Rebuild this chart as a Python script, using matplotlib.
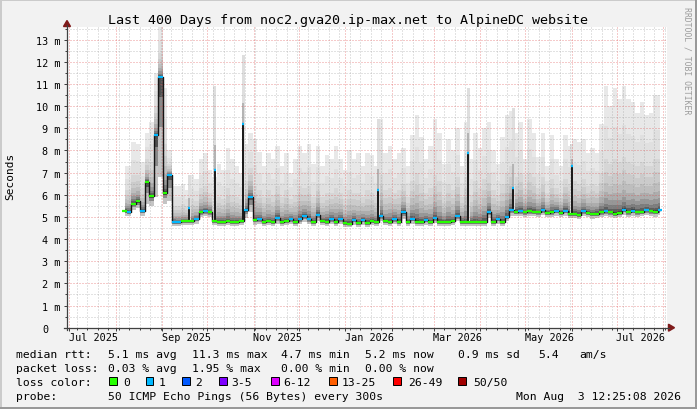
import numpy as np
import pandas as pd
import matplotlib
matplotlib.use("Agg")
import matplotlib.pyplot as plt
import matplotlib.dates as mdates
from matplotlib.patches import Rectangle, Polygon
from matplotlib.lines import Line2D
from matplotlib.ticker import FixedLocator, MultipleLocator
import matplotlib.transforms as mtransforms

# ---------------- data ----------------
graph_start = "2025-06-29 12:25:08"
graph_end = "2026-08-03 12:25:08"
series_start = "2025-08-07"   # one value every 3 days

median = [5.28, 5.24, 5.60, 5.70, 5.28, 6.56, 5.96, 8.70, 11.30, 6.10,
          6.90, 4.78, 4.75, 4.80, 4.80, 4.80, 4.90, 5.20, 5.25, 5.20,
          4.80, 4.78, 4.78, 4.80, 4.78, 4.78, 4.80, 5.30, 5.90, 4.85,
          4.90, 4.78, 4.80, 4.78, 4.95, 4.78, 4.80, 4.90, 4.78, 4.90,
          5.05, 4.90, 4.78, 5.10, 4.80, 4.78, 4.90, 4.78, 4.90, 4.72,
          4.70, 4.85, 4.72, 4.85, 4.72, 4.80, 4.78, 5.05, 4.80, 4.78,
          4.90, 4.78, 5.20, 4.75, 4.90, 4.78, 4.75, 4.85, 4.75, 4.95,
          4.78, 4.75, 4.78, 4.80, 5.05, 4.78, 4.75, 4.75, 4.78, 4.75,
          4.78, 5.20, 4.78, 4.90, 4.78, 5.00, 5.30, 5.22, 5.25, 5.20,
          5.25, 5.22, 5.20, 5.30, 5.18, 5.20, 5.28, 5.18, 5.28, 5.15,
          5.15, 5.10, 5.25, 5.18, 5.12, 5.15, 5.20, 5.25, 5.20, 5.15,
          5.18, 5.32, 5.20, 5.28, 5.20, 5.22, 5.30, 5.25, 5.22, 5.30]

smoke_max = [7.3, 7.3, 8.4, 8.3, 7.5, 8.8, 9.3, 11.5, 13.6, 10.8,
             8.0, 6.4, 6.4, 6.5, 6.2, 6.9, 6.7, 7.6, 7.9, 7.1,
             6.8, 7.4, 7.1, 8.1, 7.6, 7.3, 7.0, 8.3, 8.8, 8.5,
             7.95, 7.3, 7.9, 7.6, 8.2, 7.3, 7.9, 7.0, 7.6, 8.2,
             7.9, 8.3, 7.4, 8.2, 7.3, 7.8, 7.6, 8.2, 7.6, 7.1,
             8.0, 7.6, 7.9, 7.3, 7.9, 7.8, 7.3, 9.4, 7.9, 8.2,
             7.6, 7.9, 8.1, 7.3, 8.7, 9.6, 8.6, 7.6, 8.2, 9.4,
             8.8, 7.4, 8.5, 8.0, 9.0, 7.3, 9.3, 7.6, 8.8, 8.1,
             9.0, 9.3, 8.0, 7.4, 8.6, 9.6, 9.8, 8.8, 9.3, 7.6,
             9.4, 8.8, 7.7, 8.8, 7.3, 8.7, 7.6, 7.3, 8.7, 8.2,
             8.5, 8.4, 8.5, 7.9, 8.1, 7.9, 9.2, 10.9, 10.0, 10.8,
             10.3, 10.9, 10.3, 10.2, 9.7, 10.2, 9.6, 9.7, 10.5, 10.5]

smoke_mid = [6.2, 6.2, 6.9, 6.9, 6.3, 7.6, 7.5, 10.0, 12.4, 8.3,
             7.4, 5.5, 5.5, 5.6, 5.5, 5.8, 5.7, 6.3, 6.4, 6.1,
             5.7, 5.9, 5.8, 6.3, 6.0, 5.9, 5.8, 6.6, 7.2, 6.4,
             6.2, 5.9, 6.2, 6.0, 6.4, 5.9, 6.2, 5.8, 6.0, 6.4,
             6.3, 6.4, 5.9, 6.5, 5.9, 6.1, 6.1, 6.3, 6.1, 5.8,
             6.2, 6.1, 6.1, 5.9, 6.2, 6.1, 5.9, 6.9, 6.2, 6.3,
             6.1, 6.2, 6.5, 5.9, 6.6, 7.0, 6.5, 6.1, 6.3, 6.9,
             6.6, 5.9, 6.5, 6.2, 6.8, 5.9, 6.8, 6.0, 6.6, 6.3,
             6.7, 7.0, 6.2, 6.0, 6.5, 7.0, 7.3, 6.8, 7.0, 6.3,
             7.0, 6.8, 6.3, 6.8, 6.1, 6.7, 6.3, 6.1, 6.7, 6.5,
             6.6, 6.5, 6.7, 6.4, 6.5, 6.4, 7.0, 7.6, 7.4, 7.6,
             7.5, 7.7, 7.5, 7.4, 7.3, 7.5, 7.3, 7.3, 7.6, 7.6]

smoke_min = [5.05, 5.05, 5.30, 5.40, 5.05, 5.60, 5.50, 5.90, 6.80, 5.60,
             5.70, 4.60, 4.58, 4.62, 4.62, 4.62, 4.70, 5.00, 5.05, 5.00,
             4.62, 4.60, 4.60, 4.62, 4.60, 4.60, 4.62, 4.95, 5.20, 4.65,
             4.68, 4.60, 4.62, 4.60, 4.70, 4.60, 4.62, 4.68, 4.60, 4.68,
             4.75, 4.68, 4.60, 4.80, 4.62, 4.60, 4.68, 4.60, 4.68, 4.55,
             4.53, 4.65, 4.55, 4.65, 4.55, 4.62, 4.60, 4.80, 4.62, 4.60,
             4.68, 4.60, 4.90, 4.58, 4.70, 4.60, 4.58, 4.65, 4.58, 4.72,
             4.60, 4.58, 4.60, 4.62, 4.80, 4.60, 4.58, 4.58, 4.60, 4.58,
             4.60, 4.95, 4.60, 4.70, 4.60, 4.80, 5.05, 5.02, 5.05, 5.00,
             5.05, 5.02, 5.00, 5.08, 4.98, 5.00, 5.05, 4.98, 5.05, 4.95,
             4.95, 4.90, 5.02, 4.98, 4.92, 4.95, 5.00, 5.02, 5.00, 4.95,
             4.98, 5.08, 5.00, 5.05, 5.00, 5.02, 5.08, 5.03, 5.00, 5.08]

loss = [0, 1, 0, 0, 1, 0, 0, 1, 1, 0,
        1, 1, 1, 0, 0, 0, 1, 0, 1, 0,
        0, 0, 0, 0, 0, 0, 0, 1, 1, 0,
        1, 0, 0, 0, 1, 0, 0, 1, 0, 1,
        1, 1, 0, 1, 0, 0, 1, 0, 1, 0,
        0, 1, 0, 1, 0, 0, 0, 1, 0, 0,
        1, 0, 1, 0, 1, 0, 0, 1, 0, 1,
        0, 0, 0, 0, 1, 0, 0, 0, 0, 0,
        0, 1, 0, 1, 0, 1, 1, 0, 1, 0,
        0, 0, 0, 1, 0, 0, 1, 0, 1, 0,
        0, 0, 1, 0, 0, 0, 0, 1, 0, 0,
        0, 1, 0, 1, 0, 0, 1, 0, 0, 1]

spike_dates = ["2025-09-19", "2025-10-06", "2025-10-25", "2026-01-23",
               "2026-03-24", "2026-04-23", "2026-06-01"]
spike_median = [5.4, 7.1, 9.2, 6.2, 7.9, 6.3, 7.3]
spike_max = [6.9, 10.9, 12.3, 9.4, 10.8, 9.9, 8.3]

y_ticks = list(range(0, 14))
month_labels = ["Jul 2025", "Sep 2025", "Nov 2025", "Jan 2026",
                "Mar 2026", "May 2026", "Jul 2026"]
month_label_starts = ["2025-07-01", "2025-09-01", "2025-11-01", "2026-01-01",
                      "2026-03-01", "2026-05-01", "2026-07-01"]

loss_labels = ["0", "1", "2", "3-5", "6-12", "13-25", "26-49", "50/50"]
loss_colors = ["#26ff00", "#00b8ff", "#0059ff", "#7e00ff",
               "#dd00ff", "#ff5e00", "#ff0000", "#a10000"]

title = "Last 400 Days from noc2.gva20.ip-max.net to AlpineDC website"

# ---------------- figure ----------------
W, H = 697, 410
MONO = "DejaVu Sans Mono"
fig = plt.figure(figsize=(W / 100, H / 100), dpi=100)
fig.patch.set_facecolor("#f2f2f2")


def fx(p):
    return p / W


def fy(p):
    return 1 - p / H


ax = fig.add_axes([fx(67), fy(328.7), fx(667) - fx(67), fy(28) - fy(328.7)])
ax.set_facecolor("white")
ax.set_xlim(mdates.date2num(pd.Timestamp(graph_start)),
            mdates.date2num(pd.Timestamp(graph_end)))
ax.set_ylim(0, 13.57)
for s in ax.spines.values():
    s.set_visible(False)

x = mdates.date2num(pd.date_range(series_start, periods=len(median), freq="3D"))
med = np.array(median)
mx = np.array(smoke_max)
mid = np.array(smoke_mid)
mn = np.array(smoke_min)

# smoke above median (outer = light, inner = dark)
ax.fill_between(x, med, mx, step="mid", color="#e8e8e8", lw=0, zorder=1)
ax.fill_between(x, med, mid + 0.45 * (mx - mid), step="mid", color="#e0e0e0", lw=0, zorder=1)
for f, c in [(1.0, "#d6d6d6"), (0.75, "#cbcbcb"), (0.55, "#bebebe"),
             (0.38, "#adadad"), (0.25, "#979797"), (0.15, "#7c7c7c"),
             (0.08, "#5e5e5e"), (0.03, "#3e3e3e")]:
    ax.fill_between(x, med, med + f * (mid - med), step="mid", color=c, lw=0, zorder=1)
# smoke below median
ax.fill_between(x, mn, med, step="mid", color="#c4c4c4", lw=0, zorder=1)
ax.fill_between(x, med - 0.5 * (med - mn), med, step="mid", color="#8a8a8a", lw=0, zorder=1)
ax.fill_between(x, med - 0.2 * (med - mn), med, step="mid", color="#505050", lw=0, zorder=1)

# spikes
sx = mdates.date2num(pd.to_datetime(spike_dates))
for d, sm, smax in zip(sx, spike_median, spike_max):
    j = int(np.argmin(np.abs(x - d)))
    b = med[j]
    ax.fill_between([d - 0.9, d + 0.9], b, smax, color="#dedede", lw=0, zorder=1.1)
    ax.fill_between([d - 0.7, d + 0.7], b, sm + 0.3 * (smax - sm), color="#b4b4b4", lw=0, zorder=1.1)
    ax.fill_between([d - 0.6, d + 0.6], b, sm, color="#606060", lw=0, zorder=1.1)
    ax.vlines(d, b, sm, color="#151515", lw=1.3, zorder=3)
    ax.hlines(sm, d - 0.7, d + 0.7, color=loss_colors[1], lw=1.7, zorder=4)

# median line
ax.step(x, med, where="mid", color="#151515", lw=1.0, zorder=3)
ax.hlines(med, x - 1.5, x + 1.5, colors=[loss_colors[v] for v in loss], lw=1.6, zorder=4)

# grid / ticks
ax.xaxis.set_major_locator(mdates.MonthLocator())
weekly = mdates.date2num(pd.date_range("2025-06-29", "2026-08-03", freq="7D"))
ax.xaxis.set_minor_locator(FixedLocator(weekly))
ax.yaxis.set_major_locator(FixedLocator(y_ticks))
ax.yaxis.set_minor_locator(MultipleLocator(0.5))
ax.set_axisbelow(False)
ax.grid(True, which="major", color="#de5050", alpha=0.6, lw=0.72, ls=(0, (1, 2)))
ax.grid(True, which="minor", color="#8f8f8f", alpha=0.5, lw=0.72, ls=(0, (1, 2)))
ax.tick_params(axis="both", which="both", color="#404040", width=0.72)
ax.tick_params(axis="both", which="major", length=2.2)
ax.tick_params(axis="both", which="minor", length=1.4)
ax.tick_params(axis="x", labelbottom=False)
ax.tick_params(axis="y", which="major", pad=2.4)
ax.set_yticklabels(["" if v == 0 else f"{v} m" for v in y_ticks],
                   fontfamily=MONO, fontsize=7.3)
fig.text(fx(45.2), fy(328.7), "0", ha="center", va="center_baseline",
         fontfamily=MONO, fontsize=7.3)

lab_tr = mtransforms.offset_copy(ax.get_xaxis_transform(), fig=fig, y=-12.3 * 0.72, units="points")
for lab, st in zip(month_labels, month_label_starts):
    d = mdates.date2num(pd.Timestamp(st) + pd.Timedelta(days=16))
    ax.text(d, 0, lab, transform=lab_tr, ha="center", va="baseline",
            fontfamily=MONO, fontsize=7.3)

# axis lines and arrows
axis_col = "#404040"
arrow_col = "#7f1a1a"
fig.add_artist(Line2D([fx(67), fx(67)], [fy(331), fy(26)], color=axis_col, lw=0.9,
                      transform=fig.transFigure))
fig.add_artist(Line2D([fx(64), fx(669)], [fy(328.7), fy(328.7)], color=axis_col, lw=0.9,
                      transform=fig.transFigure))
fig.add_artist(Polygon([[fx(67), fy(21.5)], [fx(63.5), fy(27.5)], [fx(70.5), fy(27.5)]],
                       closed=True, color=arrow_col, transform=fig.transFigure))
fig.add_artist(Polygon([[fx(674.5), fy(328.7)], [fx(668.5), fy(325.2)], [fx(668.5), fy(332.2)]],
                       closed=True, color=arrow_col, transform=fig.transFigure))

# texts
fig.text(fx(348), fy(24), title, ha="center", va="baseline", fontfamily=MONO, fontsize=9.6)
fig.text(fx(10.3), fy(176.7), "Seconds", rotation=90, ha="center", va="center",
         fontfamily=MONO, fontsize=8.0)
fig.text(fx(687.3), fy(60.5), "RRDTOOL / TOBI OETIKER", rotation=270, ha="center", va="center",
         fontfamily=MONO, fontsize=5.9, color="#9c9c9c")

LF = 8.2
line1 = [("median rtt:", 16), ("5.1 ms avg", 107.6), ("11.3 ms max", 192), ("4.7 ms min", 281),
         ("5.2 ms now", 365), ("0.9 ms sd", 457.8), ("5.4", 537.8), ("am/s", 579.1)]
line2 = [("packet loss:", 16), ("0.03 % avg", 107.6), ("1.95 % max", 192), ("0.00 % min", 281),
         ("0.00 % now", 365)]
for txt, px in line1:
    fig.text(fx(px), fy(358.5), txt, ha="left", va="baseline", fontfamily=MONO, fontsize=LF)
for txt, px in line2:
    fig.text(fx(px), fy(372.5), txt, ha="left", va="baseline", fontfamily=MONO, fontsize=LF)

fig.text(fx(16), fy(386.5), "loss color:", ha="left", va="baseline", fontfamily=MONO, fontsize=LF)
box_x = [109, 145.8, 182, 219, 271, 329, 393, 458]
lab_x = [123.6, 159, 195.6, 231, 283, 342, 408, 473]
for bx, lx, lab, c in zip(box_x, lab_x, loss_labels, loss_colors):
    fig.add_artist(Rectangle((fx(bx), fy(386.3)), 7.5 / W, 8.7 / H, facecolor=c,
                             edgecolor="black", lw=0.7, transform=fig.transFigure))
    fig.text(fx(lx), fy(386.5), lab, ha="left", va="baseline", fontfamily=MONO, fontsize=LF)

fig.text(fx(16), fy(400.5), "probe:", ha="left", va="baseline", fontfamily=MONO, fontsize=LF)
fig.text(fx(107.6), fy(400.5), "50 ICMP Echo Pings (56 Bytes) every 300s", ha="left",
         va="baseline", fontfamily=MONO, fontsize=LF)
fig.text(fx(681), fy(400.5), "Mon Aug  3 12:25:08 2026", ha="right", va="baseline",
         fontfamily=MONO, fontsize=LF)

# frame shading
fig.add_artist(Rectangle((0, fy(2)), 1, 2 / H, color="#cbcbcb", lw=0, transform=fig.transFigure))
fig.add_artist(Rectangle((0, 0), 2 / W, 1, color="#cbcbcb", lw=0, transform=fig.transFigure))
fig.add_artist(Rectangle((0, 0), 1, 2 / H, color="#999999", lw=0, transform=fig.transFigure))
fig.add_artist(Rectangle((1 - 2 / W, 0), 2 / W, 1, color="#999999", lw=0, transform=fig.transFigure))

fig.savefig("out.png", dpi=100, facecolor=fig.get_facecolor())
